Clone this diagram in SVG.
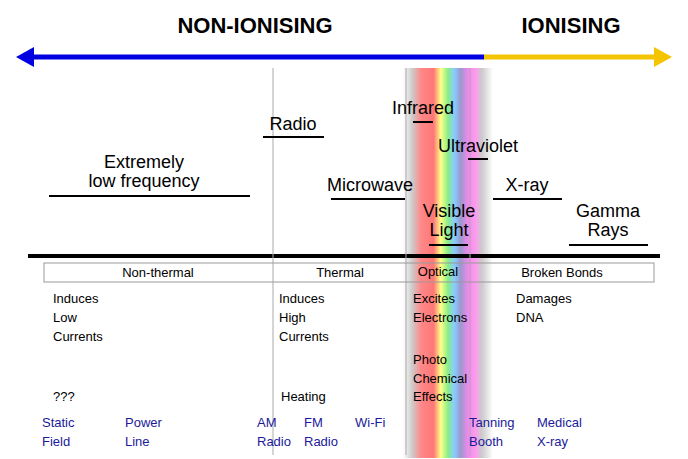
<svg xmlns="http://www.w3.org/2000/svg" width="688" height="459" viewBox="0 0 688 459">
<defs>
<linearGradient id="rb" x1="0" x2="1" y1="0" y2="0">
<stop offset="0" stop-color="#fff"/>
<stop offset="0.1" stop-color="#ccc"/>
<stop offset="0.2" stop-color="#f88"/>
<stop offset="0.34" stop-color="#f77"/>
<stop offset="0.42" stop-color="#ff8"/>
<stop offset="0.5" stop-color="#8e8"/>
<stop offset="0.57" stop-color="#8cf"/>
<stop offset="0.64" stop-color="#99c"/>
<stop offset="0.72" stop-color="#e8e"/>
<stop offset="0.8" stop-color="#f9e"/>
<stop offset="0.88" stop-color="#ccc"/>
<stop offset="1" stop-color="#fff"/>
</linearGradient>
<linearGradient id="vf" x1="0" x2="0" y1="0" y2="1">
<stop offset="0" stop-color="#fff" stop-opacity="0"/>
<stop offset="0.97" stop-color="#fff" stop-opacity="0"/>
<stop offset="1" stop-color="#fff" stop-opacity="1"/>
</linearGradient>
</defs>
<style>
text{font-family:"Liberation Sans",Arial,sans-serif;fill:#000}
.h{font-size:22px;font-weight:bold}
.b{font-size:18px;text-anchor:middle}
.s{font-size:13px}
.bl{font-size:13px;fill:#1a1a9a}
.u{stroke:#000;stroke-width:2}
.v{stroke:#aaa;stroke-width:1}
</style>
<rect x="403" y="68" width="90" height="390" fill="url(#rb)"/>
<g id="arrows">
<line x1="30" y1="57" x2="484" y2="57" stroke="#0000e0" stroke-width="5"/>
<polygon points="16,57 34,47 34,67" fill="#0000e0"/>
<line x1="484" y1="57" x2="658" y2="57" stroke="#f5c400" stroke-width="5"/>
<polygon points="672,57 654,47 654,67" fill="#f5c400"/>
<line x1="28" y1="256" x2="660" y2="256" stroke="#000" stroke-width="4"/>
<line class="v" x1="273" y1="68" x2="273" y2="455"/>
<line class="v" x1="406" y1="68" x2="406" y2="455"/>
<line class="v" x1="470" y1="68" x2="470" y2="455"/>
</g>
<text class="h" x="255" y="33" text-anchor="middle">NON-IONISING</text>
<text class="h" x="571" y="33" text-anchor="middle">IONISING</text>
<g id="elf"><text class="b" x="144" y="168">Extremely</text><text class="b" x="144" y="187">low frequency</text><line class="u" x1="49" y1="196" x2="250" y2="196"/></g>
<g id="radio"><text class="b" x="293" y="130">Radio</text><line class="u" x1="263" y1="137" x2="324" y2="137"/></g>
<g id="micro"><text class="b" x="370" y="191">Microwave</text><line class="u" x1="331" y1="199" x2="405" y2="199"/></g>
<g id="ir"><text class="b" x="423" y="114">Infrared</text><line class="u" x1="413" y1="122" x2="433" y2="122"/></g>
<g id="uv"><text class="b" x="478" y="152">Ultraviolet</text><line class="u" x1="468" y1="159" x2="488" y2="159"/></g>
<g id="vis"><text class="b" x="449" y="217">Visible</text><text class="b" x="449" y="236">Light</text><line class="u" x1="429" y1="245" x2="468" y2="245"/></g>
<g id="xray"><text class="b" x="527" y="191">X-ray</text><line class="u" x1="493" y1="199" x2="562" y2="199"/></g>
<g id="gamma"><text class="b" x="608" y="217">Gamma</text><text class="b" x="608" y="236">Rays</text><line class="u" x1="569" y1="245" x2="648" y2="245"/></g>
<g id="box">
<rect x="44" y="263" width="610" height="19" fill="none" stroke="#999"/>
<text class="s" x="158" y="277" text-anchor="middle">Non-thermal</text>
<text class="s" x="340" y="277" text-anchor="middle">Thermal</text>
<text class="s" x="438" y="276" text-anchor="middle">Optical</text>
<text class="s" x="562" y="277" text-anchor="middle">Broken Bonds</text>
</g>
<g id="effects">
<text class="s" x="53" y="303">Induces</text><text class="s" x="53" y="322">Low</text><text class="s" x="53" y="341">Currents</text>
<text class="s" x="53" y="401">???</text>
<text class="s" x="279" y="303">Induces</text><text class="s" x="279" y="322">High</text><text class="s" x="279" y="341">Currents</text>
<text class="s" x="281" y="401">Heating</text>
<text class="s" x="413" y="303">Excites</text><text class="s" x="413" y="322">Electrons</text>
<text class="s" x="413" y="364">Photo</text><text class="s" x="413" y="383">Chemical</text><text class="s" x="413" y="401">Effects</text>
<text class="s" x="516" y="303">Damages</text><text class="s" x="516" y="322">DNA</text>
</g>
<g id="sources">
<text class="bl" x="42" y="427">Static</text><text class="bl" x="42" y="446">Field</text>
<text class="bl" x="125" y="427">Power</text><text class="bl" x="125" y="446">Line</text>
<text class="bl" x="257" y="427">AM</text><text class="bl" x="257" y="446">Radio</text>
<text class="bl" x="304" y="427">FM</text><text class="bl" x="304" y="446">Radio</text>
<text class="bl" x="355" y="427">Wi-Fi</text>
<text class="bl" x="469" y="427">Tanning</text><text class="bl" x="469" y="446">Booth</text>
<text class="bl" x="537" y="427">Medical</text><text class="bl" x="537" y="446">X-ray</text>
</g>
</svg>
